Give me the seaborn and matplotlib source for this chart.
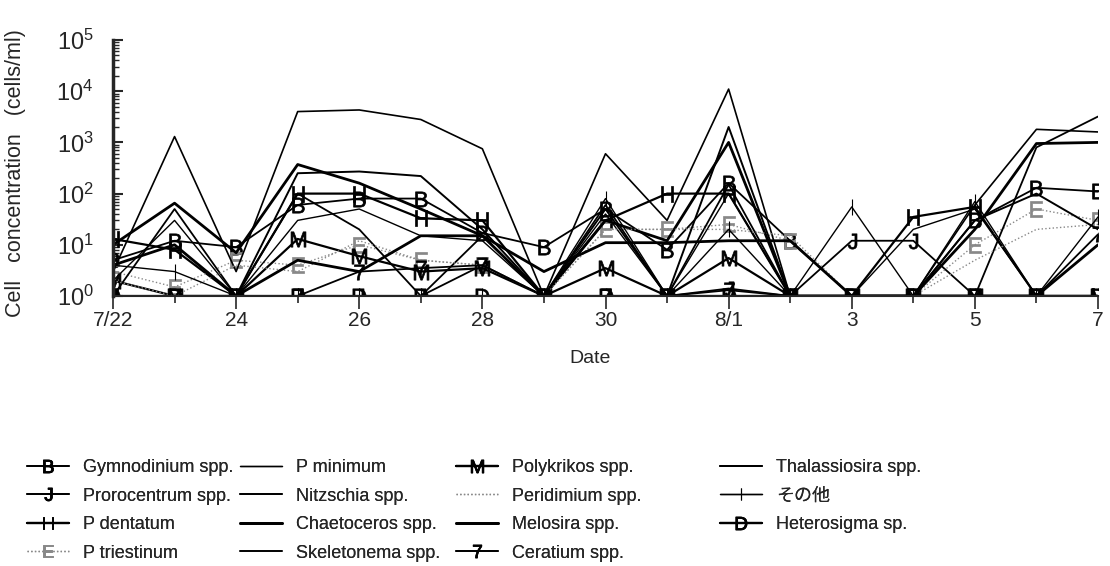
import numpy as np
import matplotlib
matplotlib.use('Agg')
import matplotlib.pyplot as plt
import seaborn as sns
from matplotlib.ticker import FixedLocator, FuncFormatter, LogLocator, NullFormatter

# Sampling dates (7/22 .. 8/7), one sample per day
dates = ['7/22', '23', '24', '25', '26', '27', '28', '29', '30', '31',
         '8/1', '2', '3', '4', '5', '6', '7']
tick_labels = ['7/22', '24', '26', '28', '30', '8/1', '3', '5', '7']

# Cell concentration (cells/ml); zero counts drawn on the 10^0 baseline
gymnodinium   = [5, 12, 9, 60, 80, 80, 17, 9, 50, 8, 160, 12, 1, 1, 30, 130, 110]
prorocentrum  = [1, 1, 1, 1, 1, 1, 4, 1, 1, 1, 1.4, 1, 12, 12, 1, 1, 1]
p_dentatum    = [13, 8, 1, 100, 100, 33, 30, 1, 30, 100, 100, 1, 1, 35, 55, 1, 1]
p_triestinum  = [3, 1.5, 5, 4, 10, 5, 4, 1, 20, 20, 25, 12, 1, 1, 10, 50, 30]
p_minimum     = [2, 30, 1, 30, 50, 15, 12, 1, 40, 1, 100, 1, 1, 20, 50, 1, 1]
nitzschia     = [1, 50, 1, 100, 20, 1, 15, 1, 60, 1, 150, 1, 1, 1, 1, 800, 3200]
chaetoceros   = [10, 65, 7, 370, 160, 50, 15, 1, 30, 12, 1000, 1, 1, 1, 20, 950, 1000]
skeletonema   = [3, 1300, 3, 4000, 4300, 2800, 750, 1, 600, 30, 11000, 1, 1, 1, 60, 1800, 1600]
polykrikos    = [2, 1, 1, 13, 6, 3, 3.5, 1, 3.5, 1, 5.5, 1, 1, 1, 1, 1, 1]
peridimium    = [2, 1, 4, 3, 12, 5, 4, 1, 20, 20, 20, 15, 1, 1, 5, 20, 25]
melosira      = [4, 10, 1, 5, 3, 15, 15, 3, 11, 11, 12, 12, 1, 1, 1, 1, 10]
ceratium      = [1, 1, 1, 1, 3, 3.5, 4, 1, 1, 1, 1.3, 1, 1, 1, 1, 1, 16]
thalassiosira = [1, 1, 1, 250, 270, 220, 20, 1, 50, 1, 2000, 1, 1, 1, 30, 100, 20]
sonota        = [4, 3, 1, 1, 1, 1, 1, 1, 80, 1, 20, 1, 55, 1, 70, 1, 35]
heterosigma   = [1, 1, 1, 1, 1, 1, 1, 1, 1, 1, 1, 1, 1, 1, 1, 1, 1]

# label, values, color, linewidth, linestyle, marker
series = [
    ('Gymnodinium spp.', gymnodinium, 'black', 1.3, '-', '$B$'),
    ('Prorocentrum spp.', prorocentrum, 'black', 1.3, '-', '$J$'),
    ('P dentatum', p_dentatum, 'black', 1.6, '-', '$H$'),
    ('P triestinum', p_triestinum, '#888888', 1.0, ':', '$E$'),
    ('P minimum', p_minimum, 'black', 1.0, '-', None),
    ('Nitzschia spp.', nitzschia, 'black', 1.3, '-', None),
    ('Chaetoceros spp.', chaetoceros, 'black', 2.0, '-', None),
    ('Skeletonema spp.', skeletonema, 'black', 1.2, '-', None),
    ('Polykrikos spp.', polykrikos, 'black', 1.6, '-', '$M$'),
    ('Peridimium spp.', peridimium, '#888888', 1.0, ':', None),
    ('Melosira spp.', melosira, 'black', 2.0, '-', None),
    ('Ceratium spp.', ceratium, 'black', 1.3, '-', '$7$'),
    ('Thalassiosira spp.', thalassiosira, 'black', 1.4, '-', None),
    ('その他', sonota, 'black', 1.0, '-', '|'),
    ('Heterosigma sp.', heterosigma, 'black', 1.6, '-', '$D$'),
]

sns.set_style('ticks')
plt.rcParams['font.family'] = ['Liberation Sans', 'Noto Sans CJK JP', 'DejaVu Sans']
plt.rcParams['mathtext.fontset'] = 'custom'
plt.rcParams['mathtext.rm'] = 'Liberation Sans'
plt.rcParams['mathtext.it'] = 'Liberation Sans'
plt.rcParams['mathtext.default'] = 'regular'

fig = plt.figure(figsize=(11.1, 5.66), dpi=100)
ax = fig.add_axes([113 / 1110, 1 - 296 / 566, 985 / 1110, 256 / 566])

x = np.arange(len(dates))
handles = []
for label, vals, color, lw, ls, mk in series:
    sns.lineplot(x=x, y=vals, ax=ax, color=color, linewidth=lw, linestyle=ls,
                 marker=mk, markersize=11, markeredgewidth=0.8 if mk == '|' else 0.5,
                 markerfacecolor=color, markeredgecolor=color, label=label, legend=False)
    handles.append(ax.lines[-1])

ax.set_yscale('log')
ax.set_ylim(1, 1e5)
ax.set_xlim(0, len(dates) - 1)
ax.yaxis.set_major_locator(LogLocator(base=10, numticks=10))
ax.yaxis.set_minor_locator(LogLocator(base=10, subs=np.arange(2, 10), numticks=20))
ax.yaxis.set_minor_formatter(NullFormatter())
ax.yaxis.set_major_formatter(FuncFormatter(lambda v, p: r'$10^{%d}$' % round(np.log10(v))))

ax.xaxis.set_major_locator(FixedLocator(x[::2]))
ax.xaxis.set_minor_locator(FixedLocator(x[1::2]))
ax.set_xticklabels(tick_labels)

ax.tick_params(axis='x', which='major', direction='out', length=9, width=1.2, labelsize=15, pad=2)
ax.tick_params(axis='x', which='minor', direction='out', length=5, width=1.2)
ax.tick_params(axis='y', which='major', direction='in', length=7, width=1.5, labelsize=17, pad=14)
ax.tick_params(axis='y', which='minor', direction='in', length=4, width=1.0)

for s in ['top', 'right']:
    ax.spines[s].set_visible(False)
ax.spines['left'].set_linewidth(2.5)
ax.spines['bottom'].set_linewidth(1.5)

ax.set_ylabel('Cell   concentration   (cells/ml)', fontsize=15.5, labelpad=12)
ax.yaxis.set_label_coords(-0.088, 0.48)
ax.set_xlabel('Date', fontsize=14)
ax.xaxis.set_label_coords(0.484, -0.21)

# legend: four columns placed like the reference
col_x = [27 / 1110, 240 / 1110, 456 / 1110, 720 / 1110]
groups = [handles[0:4], handles[4:8], handles[8:12], handles[12:15]]
for cx, grp in zip(col_x, groups):
    leg = fig.legend(handles=grp, labels=[h.get_label() for h in grp],
                     loc='upper left', bbox_to_anchor=(cx, 1 - 459 / 566),
                     frameon=False, fontsize=13, handlelength=2.3, handletextpad=0.8,
                     labelspacing=0.64, borderaxespad=0, borderpad=0, markerscale=0.85)
    fig.add_artist(leg)

fig.savefig('out.png', dpi=100)
